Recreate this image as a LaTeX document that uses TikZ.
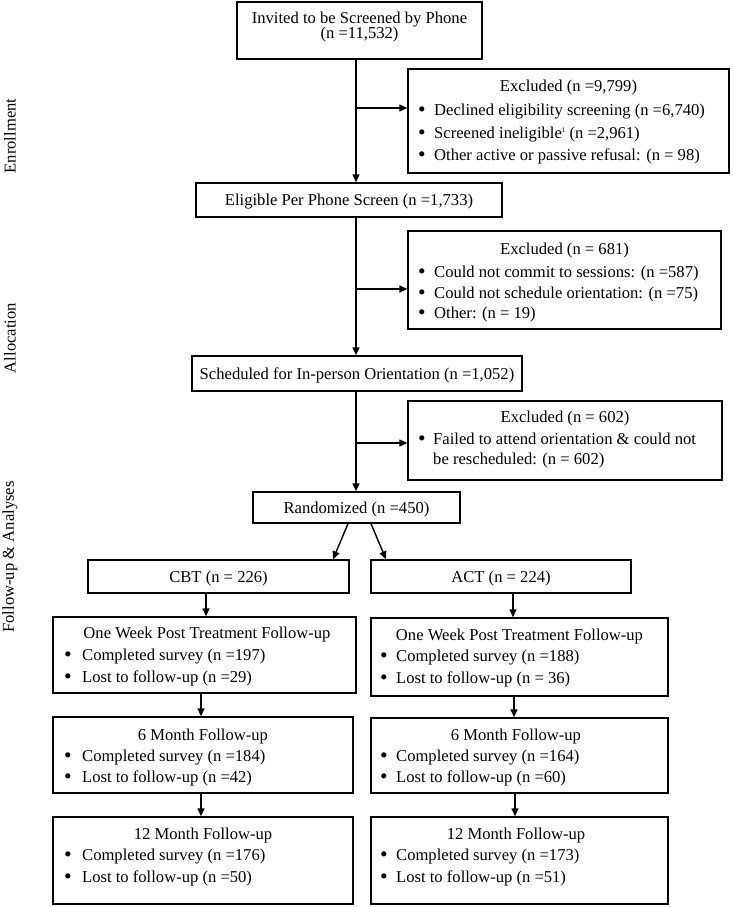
\documentclass[tikz,border=0pt]{standalone}
\usepackage{fontspec}
\setmainfont{Liberation Serif}
\usetikzlibrary{arrows.meta}
\newcommand{\bdot}{\raisebox{-1.4pt}{\scalebox{1.3}{\textbullet}}}
\newcommand{\bitem}[4]{\node[txt,anchor=base west] at (#1,#2) {\makebox[#3pt][l]{\bdot}#4};}
\newcommand{\ttl}[3]{\node[txt,anchor=base] at (#1,#2) {#3};}
\begin{document}
\begin{tikzpicture}[x=1pt,y=-1pt,
  box/.style={draw,line width=1.4pt,inner sep=0pt},
  txt/.style={inner sep=0pt,font=\fontsize{16.6}{19}\selectfont},
  side/.style={inner sep=0pt,font=\fontsize{16.6}{19}\selectfont,rotate=90},
  arr/.style={line width=1.4pt,-{Triangle[length=8pt,width=7pt]}}]
\useasboundingbox (0,0) rectangle (732,907);

% side labels
\node[side] (lenr) at (10,136) {Enrollment};
\node[side] (lall) at (10,338) {Allocation};
\node[side] (lfol) at (10,557) {Follow-up \& Analyses};

% main column boxes
\node[box,minimum width=245pt,minimum height=57pt] (b1) at (359.5,30.5) {};
\ttl{359.5}{23.3}{Invited to be Screened by Phone}
\ttl{359.5}{38.8}{(n =11,532)}

\node[box,minimum width=306pt,minimum height=34pt] (b2) at (349,200) {};
\ttl{349}{205.5}{Eligible Per Phone Screen (n =1,733)}

\node[box,minimum width=330pt,minimum height=35pt] (b3) at (357,373.5) {};
\ttl{357}{379}{Scheduled for In-person Orientation (n =1,052)}

\node[box,minimum width=207pt,minimum height=31pt] (rnd) at (356.5,507.5) {};
\ttl{356.5}{513}{Randomized (n =450)}

% exclusion boxes
\node[box,minimum width=321pt,minimum height=104pt] (e1) at (568.5,121) {};
\ttl{568.5}{91.5}{Excluded (n =9,799)}
\bitem{418}{115.5}{16}{Declined eligibility screening (n =6,740)}
\bitem{418}{138.5}{16}{Screened ineligible\raisebox{6pt}{\fontsize{7}{7}\selectfont 1} (n =2,961)}
\bitem{418}{160.5}{16}{Other active or passive refusal: (n = 98)}

\node[box,minimum width=313pt,minimum height=98pt] (e2) at (564.5,280) {};
\ttl{564.5}{254.5}{Excluded (n = 681)}
\bitem{418}{277.5}{16}{Could not commit to sessions: (n =587)}
\bitem{418}{298}{16}{Could not schedule orientation: (n =75)}
\bitem{418}{318.5}{16}{Other: (n = 19)}

\node[box,minimum width=314pt,minimum height=79pt] (e3) at (565,440.5) {};
\ttl{565}{422.5}{Excluded (n = 602)}
\bitem{418}{444.5}{15}{Failed to attend orientation \& could not}
\node[txt,anchor=base west] at (433,464.5) {be rescheduled: (n = 602)};

% arms
\node[box,minimum width=261pt,minimum height=33pt] (cbt) at (218.5,576.5) {};
\ttl{218.5}{582}{CBT (n = 226)}
\node[box,minimum width=260pt,minimum height=33pt] (act) at (501,576.5) {};
\ttl{501}{582}{ACT (n = 224)}

\node[box,minimum width=303pt,minimum height=76pt] (ow1) at (204.5,655) {};
\ttl{207}{638.5}{One Week Post Treatment Follow-up}
\bitem{64}{660.5}{18}{Completed survey (n =197)}
\bitem{64}{682.5}{18}{Lost to follow-up (n =29)}

\node[box,minimum width=297pt,minimum height=78pt] (ow2) at (519.5,657) {};
\ttl{519.5}{640.5}{One Week Post Treatment Follow-up}
\bitem{380}{661.5}{16}{Completed survey (n =188)}
\bitem{380}{683.5}{16}{Lost to follow-up (n = 36)}

\node[box,minimum width=300pt,minimum height=76pt] (m6a) at (203,755) {};
\ttl{203}{740.5}{6 Month Follow-up}
\bitem{64}{761.5}{18}{Completed survey (n =184)}
\bitem{64}{782.5}{18}{Lost to follow-up (n =42)}

\node[box,minimum width=297pt,minimum height=75pt] (m6b) at (519.5,755.5) {};
\ttl{516}{740.5}{6 Month Follow-up}
\bitem{380}{761.5}{16}{Completed survey (n =164)}
\bitem{380}{782.5}{16}{Lost to follow-up (n =60)}

\node[box,minimum width=300pt,minimum height=87pt] (m12a) at (203,860.5) {};
\ttl{203}{839.5}{12 Month Follow-up}
\bitem{64}{860.5}{18}{Completed survey (n =176)}
\bitem{64}{882.5}{18}{Lost to follow-up (n =50)}

\node[box,minimum width=297pt,minimum height=87pt] (m12b) at (519.5,860.5) {};
\ttl{516}{839.5}{12 Month Follow-up}
\bitem{380}{860.5}{16}{Completed survey (n =173)}
\bitem{380}{882.5}{16}{Lost to follow-up (n =51)}

% connectors
\coordinate (mx) at (356,0);
\coordinate (j1) at (356,108);
\coordinate (j2) at (356,289);
\coordinate (j3) at (356,443);
\draw[arr] (b1.south -| mx) -- (b2.north -| mx);
\draw[arr] (j1) -- (e1.west |- j1);
\draw[arr] (b2.south -| mx) -- (b3.north -| mx);
\draw[arr] (j2) -- (e2.west |- j2);
\draw[arr] (b3.south -| mx) -- (rnd.north -| mx);
\draw[arr] (j3) -- (e3.west |- j3);

\draw[arr] ([xshift=-8.5pt]rnd.south) -- ([xshift=114.5pt]cbt.north);
\draw[arr] ([xshift=14.5pt]rnd.south) -- ([xshift=-115pt]act.north);

\draw[arr] ([xshift=-12.5pt]cbt.south) -- ([xshift=1.5pt]ow1.north);
\draw[arr] ([xshift=-3.5pt]ow1.south) -- ([xshift=-2pt]m6a.north);
\draw[arr] ([xshift=-2pt]m6a.south) -- ([xshift=-2pt]m12a.north);

\draw[arr] ([xshift=12pt]act.south) -- ([xshift=-6.5pt]ow2.north);
\draw[arr] ([xshift=-5.5pt]ow2.south) -- ([xshift=-5.5pt]m6b.north);
\draw[arr] ([xshift=-4.5pt]m6b.south) -- ([xshift=-4.5pt]m12b.north);
\end{tikzpicture}
\end{document}
